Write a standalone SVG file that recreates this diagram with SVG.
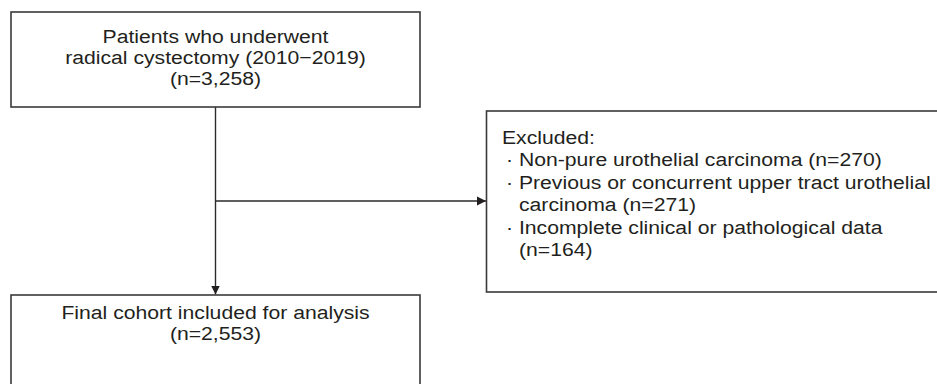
<svg xmlns="http://www.w3.org/2000/svg" width="937" height="384" viewBox="0 0 937 384">
<style>
.box{fill:#fff;stroke:#3a3a3a;stroke-width:1.6}
.ln{fill:none;stroke:#2a2a2a;stroke-width:1.4}
text{font-family:"Liberation Sans",Arial,sans-serif;font-size:19px;fill:#231f20}
.c{text-anchor:middle}
</style>
<defs>
<marker id="ah" markerWidth="10" markerHeight="10" refX="9" refY="5" orient="auto" markerUnits="userSpaceOnUse">
<path d="M0,0.5 L9,5 L0,9.5 Z" fill="#231f20"/>
</marker>
</defs>
<rect width="937" height="384" fill="#fff"/>
<g id="connectors">
<line class="ln" x1="215.5" y1="107" x2="215.5" y2="294.5" marker-end="url(#ah)"/>
<line class="ln" x1="215.5" y1="201" x2="486" y2="201" marker-end="url(#ah)"/>
</g>
<g id="node-patients">
<rect class="box" x="11" y="12" width="409" height="95"/>
<text class="c" transform="translate(215.5,43) scale(1.114,1)">Patients who underwent</text>
<text class="c" transform="translate(215.5,64) scale(1.114,1)">radical cystectomy (2010−2019)</text>
<text class="c" transform="translate(215.5,85) scale(1.114,1)">(n=3,258)</text>
</g>
<g id="node-excluded">
<rect class="box" x="486.5" y="111" width="460" height="181"/>
<text transform="translate(502,144) scale(1.114,1)">Excluded:</text>
<text transform="translate(506,166) scale(1.114,1)">· Non-pure urothelial carcinoma (n=270)</text>
<text transform="translate(506,189) scale(1.114,1)">· Previous or concurrent upper tract urothelial</text>
<text transform="translate(519,211) scale(1.114,1)">carcinoma (n=271)</text>
<text transform="translate(506,234) scale(1.114,1)">· Incomplete clinical or pathological data</text>
<text transform="translate(519,256) scale(1.114,1)">(n=164)</text>
</g>
<g id="node-final">
<rect class="box" x="11" y="295" width="409" height="100"/>
<text class="c" transform="translate(215.5,319) scale(1.114,1)">Final cohort included for analysis</text>
<text class="c" transform="translate(215.5,340) scale(1.114,1)">(n=2,553)</text>
</g>
</svg>
